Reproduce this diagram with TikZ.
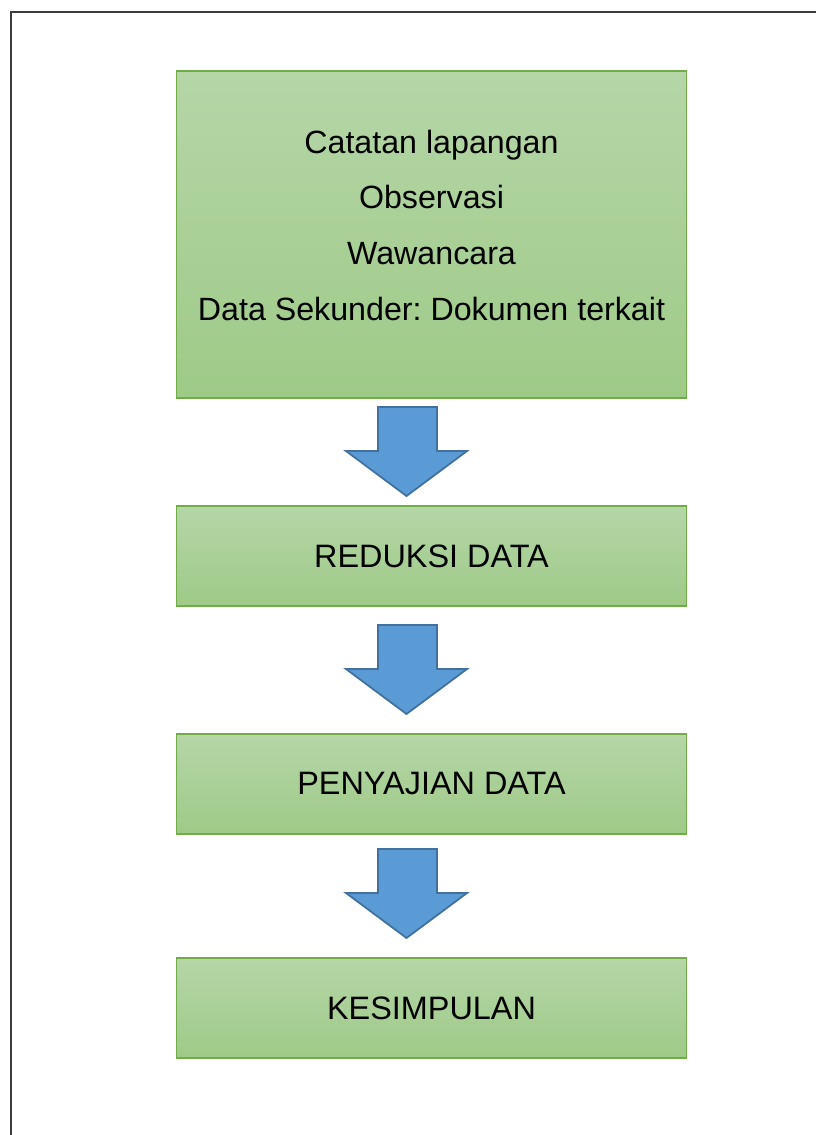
\documentclass[tikz,border=0pt]{standalone}
\usepackage{fontspec}
\setmainfont{Liberation Sans}
\frenchspacing
\definecolor{boxtop}{HTML}{B5D6A8}
\definecolor{boxbot}{HTML}{9ECA87}
\definecolor{boxline}{HTML}{70AD47}
\definecolor{arrfill}{HTML}{5B9BD5}
\definecolor{arrline}{HTML}{41719C}
\definecolor{frameline}{HTML}{3C3C3C}
\begin{document}
\begin{tikzpicture}[x=1pt,y=-1pt,
  greenbox/.style={draw=boxline, line width=1.5pt, top color=boxtop, bottom color=boxbot, minimum width=510pt, inner sep=0pt, font=\fontsize{32.4}{38}\selectfont},
  linetext/.style={anchor=base, inner sep=0pt, font=\fontsize{32.2}{38}\selectfont},
  blockarrow/.style={fill=arrfill, draw=arrline, line width=1.8pt, line join=miter}]
\useasboundingbox (0,0) rectangle (816,1135);
\draw[frameline, line width=1.8pt] (11,1136) -- (11,12) -- (817,12);
% box 1
\node[greenbox, minimum height=327pt] (b1) at (431.5,234.5) {};
\node[linetext] (t1) at (431.5,153) {Catatan lapangan};
\node[linetext] (t2) at (431.5,208.5) {Observasi};
\node[linetext] (t3) at (431.5,264) {Wawancara};
\node[linetext] (t4) at (431.5,320) {Data Sekunder: Dokumen terkait};
% other boxes
\node[greenbox, minimum height=100pt] (b2) at (431.5,556) {REDUKSI DATA};
\node[greenbox, minimum height=100pt] (b3) at (431.5,784) {PENYAJIAN DATA};
\node[greenbox, minimum height=100pt] (b4) at (431.5,1008) {KESIMPULAN};
% arrows
\draw[blockarrow] (378,407) -- (437,407) -- (437,451) -- (467,451) -- (406.5,496) -- (346,451) -- (378,451) -- cycle;
\draw[blockarrow] (378,625) -- (437,625) -- (437,669) -- (467,669) -- (406.5,714) -- (346,669) -- (378,669) -- cycle;
\draw[blockarrow] (378,849) -- (437,849) -- (437,893) -- (467,893) -- (406.5,938) -- (346,893) -- (378,893) -- cycle;
\end{tikzpicture}
\end{document}
